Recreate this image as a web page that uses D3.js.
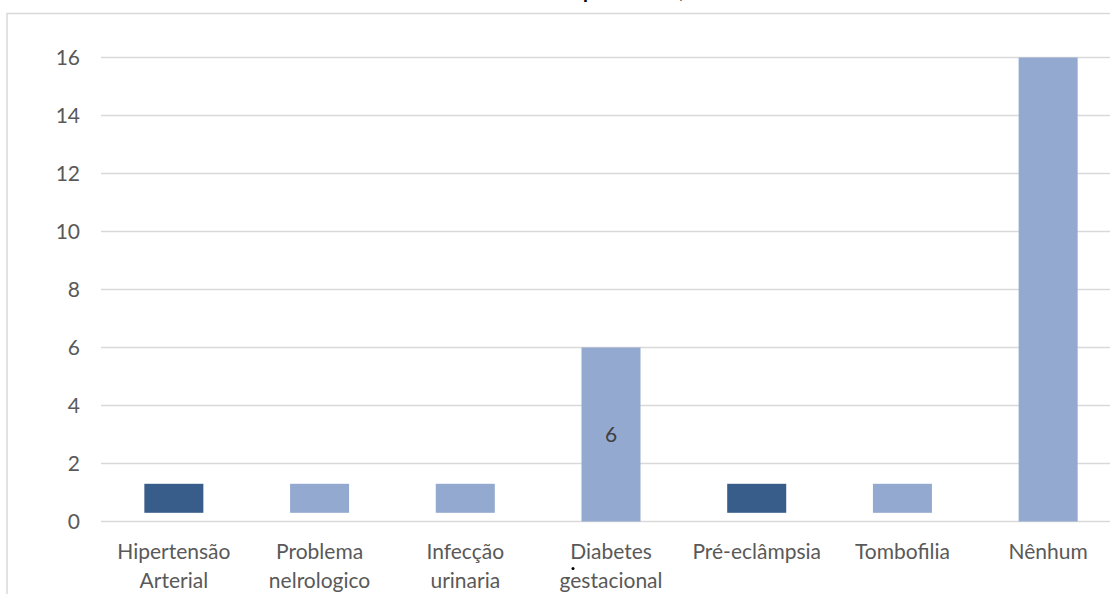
<!DOCTYPE html>
<html>
<head>
<meta charset="utf-8">
<script src="https://cdn.jsdelivr.net/npm/d3@7"></script>
<style>
  html, body { margin: 0; padding: 0; background: #fff; }
  svg { display: block; }
</style>
</head>
<body>
<svg id="chart" width="1110" height="594"></svg>
<script>
// Categories (two-line labels split with "\n")
const categories = [
  "Hipertensão\nArterial",
  "Problema\nnelrologico",
  "Infecção\nurinaria",
  "Diabetes\ngestacional",
  "Pré-eclâmpsia",
  "Tombofilia",
  "Nênhum"
];
// Count per category
const values = [1, 1, 1, 6, 1, 1, 16];
// Baseline offset of each bar (the small bars sit slightly above zero)
const offsets = [0.3, 0.3, 0.3, 0, 0.3, 0.3, 0];
// Value labels shown inside bars
const labelled = [false, false, false, true, false, false, false];
// Y axis ticks
const yTicks = [0, 2, 4, 6, 8, 10, 12, 14, 16];

const darkCats = new Set(["Hipertensão\nArterial", "Pré-eclâmpsia"]);
const DARK = "#385d8a", LIGHT = "#93a9cf";
const FONT = "Lato, 'Open Sans', sans-serif";

const svg = d3.select("#chart");

// Chart frame
svg.append("rect")
  .attr("x", 7).attr("y", 13.5)
  .attr("width", 1200).attr("height", 700)
  .attr("fill", "none")
  .attr("stroke", "#d9d9d9")
  .attr("stroke-width", 1.5);

// Title (sits mostly above the visible area)
const title = svg.append("text")
  .attr("y", -2.5)
  .attr("font-family", FONT)
  .attr("font-weight", "bold")
  .attr("font-size", 20)
  .attr("fill", "#000")
  .text("Intercorrências maternas por mulher, total");
{
  const node = title.node();
  const idx = node.textContent.indexOf("por");
  const pre = idx > 0 ? node.getSubStringLength(0, idx) : 0;
  title.attr("x", 583 - pre);
}

const x = d3.scaleBand()
  .domain(categories)
  .range([101, 1121])
  .paddingInner(0.595)
  .paddingOuter(0.2975);

const y = d3.scaleLinear()
  .domain([0, 16])
  .range([521.5, 57.5]);

// Gridlines
svg.append("g")
  .selectAll("line")
  .data(yTicks)
  .join("line")
  .attr("x1", 101).attr("x2", 1110)
  .attr("y1", d => y(d)).attr("y2", d => y(d))
  .attr("stroke", "#d9d9d9")
  .attr("stroke-width", 1.5);

// Y axis labels
const yAxis = svg.append("g")
  .attr("transform", "translate(80,0)")
  .call(d3.axisLeft(y).tickValues(yTicks).tickSize(0).tickPadding(0));
yAxis.select(".domain").remove();
yAxis.selectAll("text")
  .attr("font-family", FONT)
  .attr("font-size", 21)
  .attr("fill", "#595959");

// Bars
const rows = categories.map((c, i) => ({ c, v: values[i], o: offsets[i], lab: labelled[i] }));
svg.append("g")
  .selectAll("rect")
  .data(rows)
  .join("rect")
  .attr("x", d => x(d.c))
  .attr("width", x.bandwidth())
  .attr("y", d => y(d.o + d.v))
  .attr("height", d => y(d.o) - y(d.o + d.v))
  .attr("fill", d => darkCats.has(d.c) ? DARK : LIGHT);

// Value labels centred in bars
svg.append("g")
  .selectAll("text")
  .data(rows.filter(d => d.lab))
  .join("text")
  .attr("x", d => x(d.c) + x.bandwidth() / 2)
  .attr("y", d => (y(d.o) + y(d.o + d.v)) / 2)
  .attr("dy", "0.35em")
  .attr("text-anchor", "middle")
  .attr("font-family", FONT)
  .attr("font-size", 21)
  .attr("fill", "#404040")
  .text(d => d.v);

// X axis category labels
const xAxis = svg.append("g")
  .attr("transform", "translate(0,521.5)")
  .call(d3.axisBottom(x).tickSize(0).tickPadding(0));
xAxis.select(".domain").remove();
xAxis.selectAll(".tick text")
  .attr("font-family", FONT)
  .attr("font-size", 21)
  .attr("fill", "#595959")
  .attr("dy", null)
  .attr("y", 0)
  .each(function(d) {
    const t = d3.select(this);
    t.text(null);
    d.split("\n").forEach((line, i) => {
      t.append("tspan")
        .attr("x", 0)
        .attr("y", 37.5 + i * 29)
        .text(line);
    });
  });

// Small stray mark under the fourth label
svg.append("circle")
  .attr("cx", 573).attr("cy", 568.5)
  .attr("r", 1.5)
  .attr("fill", "#000");
</script>
</body>
</html>
